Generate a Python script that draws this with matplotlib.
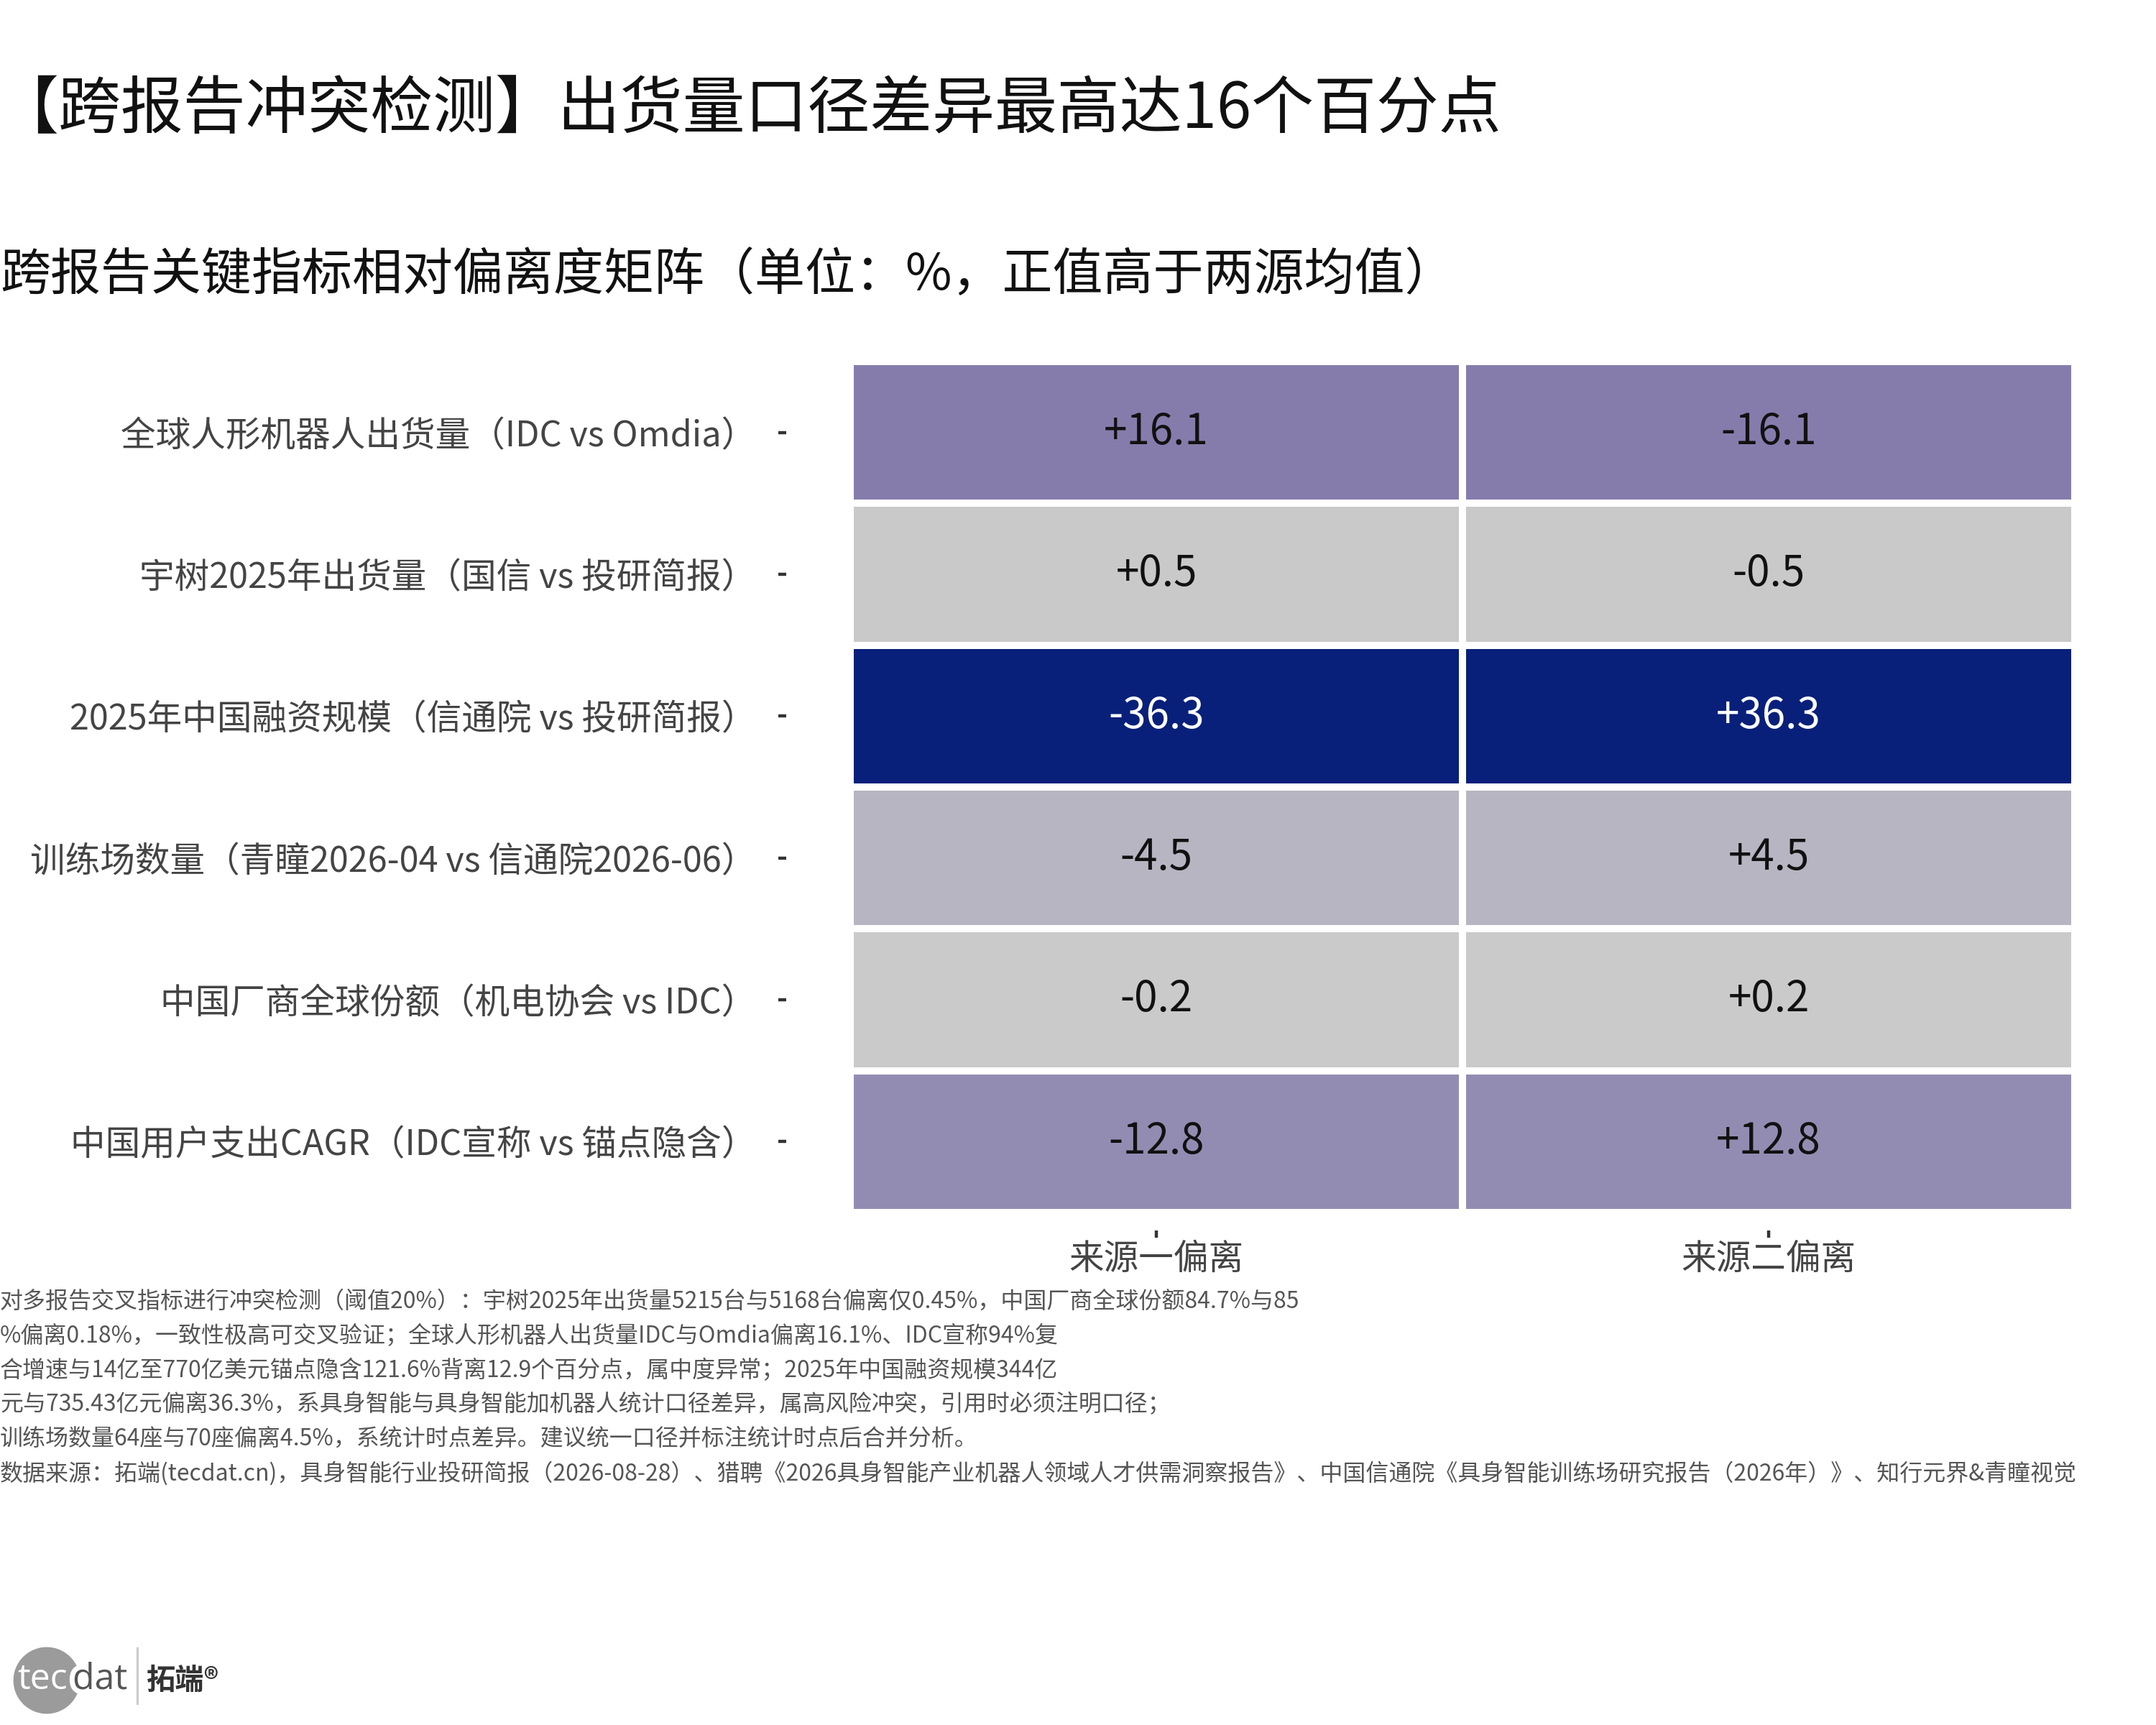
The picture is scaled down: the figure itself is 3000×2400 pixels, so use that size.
import numpy as np
import matplotlib
matplotlib.use("Agg")
import matplotlib.pyplot as plt
from matplotlib.colors import LinearSegmentedColormap, Normalize
from matplotlib.patches import Circle
import matplotlib.patheffects as pe

plt.rcParams['font.family'] = ['Noto Sans CJK SC', 'DejaVu Sans']

# ---------------- data ----------------
title = "【跨报告冲突检测】出货量口径差异最高达16个百分点"
subtitle = "跨报告关键指标相对偏离度矩阵（单位：%，正值高于两源均值）"
row_labels = [
    "全球人形机器人出货量（IDC vs Omdia）",
    "宇树2025年出货量（国信 vs 投研简报）",
    "2025年中国融资规模（信通院 vs 投研简报）",
    "训练场数量（青瞳2026-04 vs 信通院2026-06）",
    "中国厂商全球份额（机电协会 vs IDC）",
    "中国用户支出CAGR（IDC宣称 vs 锚点隐含）",
]
col_labels = ["来源一偏离", "来源二偏离"]
source1_dev = [16.1, 0.5, -36.3, -4.5, -0.2, -12.8]
source2_dev = [-16.1, -0.5, 36.3, 4.5, 0.2, 12.8]
note_lines = [
    "对多报告交叉指标进行冲突检测（阈值20%）：宇树2025年出货量5215台与5168台偏离仅0.45%，中国厂商全球份额84.7%与85",
    "%偏离0.18%，一致性极高可交叉验证；全球人形机器人出货量IDC与Omdia偏离16.1%、IDC宣称94%复",
    "合增速与14亿至770亿美元锚点隐含121.6%背离12.9个百分点，属中度异常；2025年中国融资规模344亿",
    "元与735.43亿元偏离36.3%，系具身智能与具身智能加机器人统计口径差异，属高风险冲突，引用时必须注明口径；",
    "训练场数量64座与70座偏离4.5%，系统计时点差异。建议统一口径并标注统计时点后合并分析。",
    "数据来源：拓端(tecdat.cn)，具身智能行业投研简报（2026-08-28）、猎聘《2026具身智能产业机器人领域人才供需洞察报告》、中国信通院《具身智能训练场研究报告（2026年）》、知行元界&青瞳视觉",
]

# ---------------- figure ----------------
W, H = 3000, 2400
fig = plt.figure(figsize=(15, 12), dpi=200)
fig.patch.set_facecolor("white")

fig.text(-0.002, 1 - 153 / H, title, fontsize=31.3, color="#111111", ha="left", va="center")
fig.text(0.0, 1 - 383 / H, subtitle, fontsize=25.2, color="#111111", ha="left", va="center")

ax_left, ax_right = 1183 / W, 2887 / W
ax_top, ax_bot = 1 - 503 / H, 1 - 1687 / H
ax = fig.add_axes([ax_left, ax_bot, ax_right - ax_left, ax_top - ax_bot])
ax.spines["left"].set_position(("outward", 32))
ax.spines["bottom"].set_position(("outward", 9))
for s in ax.spines.values():
    s.set_visible(False)

data = np.array([source1_dev, source2_dev]).T
mag = np.abs(data)
cmap = LinearSegmentedColormap.from_list("dev", ["#cbcbcb", "#7c72a8", "#08207a"])
norm = Normalize(vmin=0, vmax=np.max(mag))
ax.pcolormesh(np.arange(data.shape[1] + 1), np.arange(data.shape[0] + 1), mag,
              cmap=cmap, norm=norm, edgecolors="white", linewidth=3)
ax.set_xlim(0, data.shape[1])
ax.set_ylim(data.shape[0], 0)

for i in range(data.shape[0]):
    for j in range(data.shape[1]):
        v = data[i, j]
        col = "white" if norm(abs(v)) > 0.6 else "#111111"
        ax.text(j + 0.5, i + 0.5, f"{v:+.1f}", ha="center", va="center",
                fontsize=21, color=col)

ax.set_xticks(np.arange(data.shape[1]) + 0.5)
ax.set_xticklabels(col_labels)
ax.set_yticks(np.arange(data.shape[0]) + 0.5)
ax.set_yticklabels(row_labels)
ax.tick_params(axis="y", length=4, width=1.6, color="#333333", pad=11,
               labelsize=17.5, labelcolor="#444444")
ax.tick_params(axis="x", length=3.6, width=1.6, color="#333333", pad=2,
               labelsize=17.5, labelcolor="#444444")

# ---------------- notes ----------------
note_y = [1811, 1859, 1907, 1954, 2002, 2050]
for y, line in zip(note_y, note_lines):
    fig.text(0.0, 1 - y / H, line, fontsize=11.5, color="#555555", ha="left", va="center")

# ---------------- logo ----------------
lax = fig.add_axes([0, 0, 340 / W, 130 / H])
lax.set_xlim(0, 340)
lax.set_ylim(0, 130)
lax.axis("off")
lax.add_patch(Circle((65, 62), 45, color="#9b9b9b", zorder=1))
lax.text(24, 50, "tec", fontsize=18, color="white", family="Open Sans",
         ha="left", va="baseline", zorder=3)
lax.text(101, 50, "dat", fontsize=18, color="#555555", family="Open Sans",
         ha="left", va="baseline", zorder=3,
         path_effects=[pe.withStroke(linewidth=5, foreground="white")])
lax.plot([191, 191], [30, 107], color="#cccccc", lw=1.2)
lax.text(204, 50, "拓端®", fontsize=14.5, color="#333333", fontweight="bold",
         ha="left", va="baseline")

fig.savefig("out.png", dpi=200, facecolor="white")
